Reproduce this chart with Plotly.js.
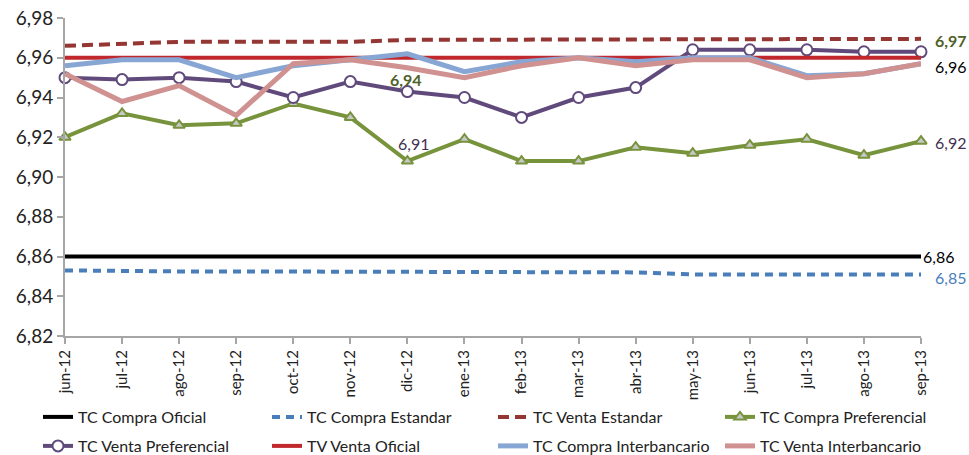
<!DOCTYPE html>
<html>
<head>
<meta charset="utf-8">
<script src="https://cdn.plot.ly/plotly-3.0.1.min.js"></script>
<style>html,body{margin:0;padding:0;background:#fff;}#chart{width:969px;height:455px;}</style>
</head>
<body>
<div id="chart"></div>
<script>
const months = ["jun-12","jul-12","ago-12","sep-12","oct-12","nov-12","dic-12","ene-13","feb-13","mar-13","abr-13","may-13","jun-13","jul-13","ago-13","sep-13"];

const tcCompraOficial   = [6.86,6.86,6.86,6.86,6.86,6.86,6.86,6.86,6.86,6.86,6.86,6.86,6.86,6.86,6.86,6.86];
const tcCompraEstandar  = [6.853,6.8525,6.8525,6.8525,6.8525,6.8525,6.852,6.852,6.852,6.852,6.852,6.851,6.851,6.851,6.851,6.851];
const tcVentaEstandar   = [6.966,6.967,6.968,6.968,6.968,6.968,6.969,6.969,6.969,6.969,6.969,6.9695,6.9695,6.969,6.9695,6.9695];
const tcCompraPref      = [6.920,6.932,6.926,6.927,6.937,6.930,6.908,6.919,6.908,6.908,6.915,6.912,6.916,6.919,6.911,6.918];
const tcVentaPref       = [6.950,6.949,6.950,6.948,6.940,6.948,6.943,6.940,6.930,6.940,6.945,6.964,6.964,6.964,6.963,6.963];
const tvVentaOficial    = [6.96,6.96,6.96,6.96,6.96,6.96,6.96,6.96,6.96,6.96,6.96,6.96,6.96,6.96,6.96,6.96];
const tcCompraInter     = [6.956,6.959,6.959,6.950,6.956,6.959,6.962,6.953,6.958,6.960,6.958,6.960,6.960,6.951,6.952,6.957];
const tcVentaInter      = [6.952,6.938,6.946,6.931,6.957,6.959,6.955,6.950,6.956,6.960,6.956,6.959,6.959,6.950,6.952,6.957];

const yTicks = [6.82,6.84,6.86,6.88,6.90,6.92,6.94,6.96,6.98];

const FONT = "Lato, 'Open Sans', sans-serif";

function line(name, y, color, width, dash, legend, extra) {
  return Object.assign({
    type: 'scatter', mode: 'lines', name: name, x: months, y: y,
    line: {color: color, width: width, dash: dash || 'solid'},
    cliponaxis: false, legend: legend
  }, extra || {});
}

const traces = [
  line('TC Compra Oficial', tcCompraOficial, '#000000', 4, 'solid', 'legend'),
  line('TC Compra Estandar', tcCompraEstandar, '#4a7ebb', 4, '8px,6px', 'legend2'),
  line('TC Venta Estandar', tcVentaEstandar, '#943634', 4, '11px,6px', 'legend3'),
  line('TC Compra Preferencial', tcCompraPref, '#77933c', 4, 'solid', 'legend4', {
    mode: 'lines+markers',
    marker: {symbol: 'triangle-up', size: 10, color: '#c8c8c8', line: {color: '#77933c', width: 2}}
  }),
  line('TC Venta Preferencial', tcVentaPref, '#604a7b', 4, 'solid', 'legend5', {
    mode: 'lines+markers',
    marker: {symbol: 'circle', size: 11, color: '#ffffff', line: {color: '#604a7b', width: 2}}
  }),
  line('TV Venta Oficial', tvVentaOficial, '#c0282d', 4, 'solid', 'legend6'),
  line('TC Compra Interbancario', tcCompraInter, '#87a6d4', 5, 'solid', 'legend7'),
  line('TC Venta Interbancario', tcVentaInter, '#d09191', 5, 'solid', 'legend8')
];

const last = months.length - 1;
const annotations = [
  {x: months[6], y: tcVentaPref[6], text: '<b>6,94</b>', font: {color: '#4f6228', size: 16}, yshift: 12, xshift: -1},
  {x: months[6], y: tcCompraPref[6], text: '6,91', font: {color: '#403152', size: 16}, yshift: 18, xshift: 6},
  {x: months[last], y: tcVentaEstandar[last], text: '<b>6,97</b>', font: {color: '#4f6228', size: 16}, xanchor: 'left', xshift: 12, yshift: -2},
  {x: months[last], y: tcVentaPref[last], text: '6,96', font: {color: '#000000', size: 16}, xanchor: 'left', xshift: 12, yshift: -15},
  {x: months[last], y: tcCompraPref[last], text: '6,92', font: {color: '#403152', size: 16}, xanchor: 'left', xshift: 12, yshift: -1},
  {x: months[last], y: tcCompraOficial[last], text: '6,86', font: {color: '#000000', size: 16}, xanchor: 'left', xshift: 0, yshift: 0},
  {x: months[last], y: tcCompraEstandar[last], text: '6,85', font: {color: '#4a7ebb', size: 16}, xanchor: 'left', xshift: 12, yshift: -3}
].map(a => Object.assign({xref: 'x', yref: 'y', showarrow: false}, a, {font: Object.assign({family: FONT}, a.font)}));

const legendBase = {
  orientation: 'h', xref: 'container', yref: 'container', xanchor: 'left', yanchor: 'top',
  font: {size: 16, color: '#222222', family: FONT}, bgcolor: 'rgba(0,0,0,0)'
};
const colX = [38, 267, 493, 720];
const rowTop = [400, 429];
function leg(col, row) {
  return Object.assign({}, legendBase, {x: colX[col] / 969, y: 1 - rowTop[row] / 455});
}

const layout = {
  width: 969, height: 455,
  margin: {l: 65, r: 48, t: 18, b: 119, autoexpand: false},
  paper_bgcolor: '#ffffff', plot_bgcolor: '#ffffff',
  separators: ',.',
  font: {family: FONT, color: '#222222'},
  showlegend: true,
  xaxis: {
    type: 'category', range: [0, last], automargin: false,
    showgrid: false, zeroline: false,
    showline: true, linecolor: '#a6a6a6', linewidth: 2,
    ticks: 'outside', ticklen: 6, tickcolor: '#a6a6a6', tickwidth: 2,
    tickangle: -90, tickfont: {size: 15, color: '#222222', family: FONT}
  },
  yaxis: {
    range: [6.82, 6.98], tickvals: yTicks, tickformat: '.2f', automargin: false,
    showgrid: false, zeroline: false,
    showline: true, linecolor: '#a6a6a6', linewidth: 2,
    ticks: 'outside', ticklen: 6, tickcolor: '#a6a6a6', tickwidth: 2,
    tickfont: {size: 19, color: '#222222', family: FONT}
  },
  legend: leg(0, 0), legend2: leg(1, 0), legend3: leg(2, 0), legend4: leg(3, 0),
  legend5: leg(0, 1), legend6: leg(1, 1), legend7: leg(2, 1), legend8: leg(3, 1),
  annotations: annotations
};

Plotly.newPlot('chart', traces, layout, {displayModeBar: false, staticPlot: true});
</script>
</body>
</html>
